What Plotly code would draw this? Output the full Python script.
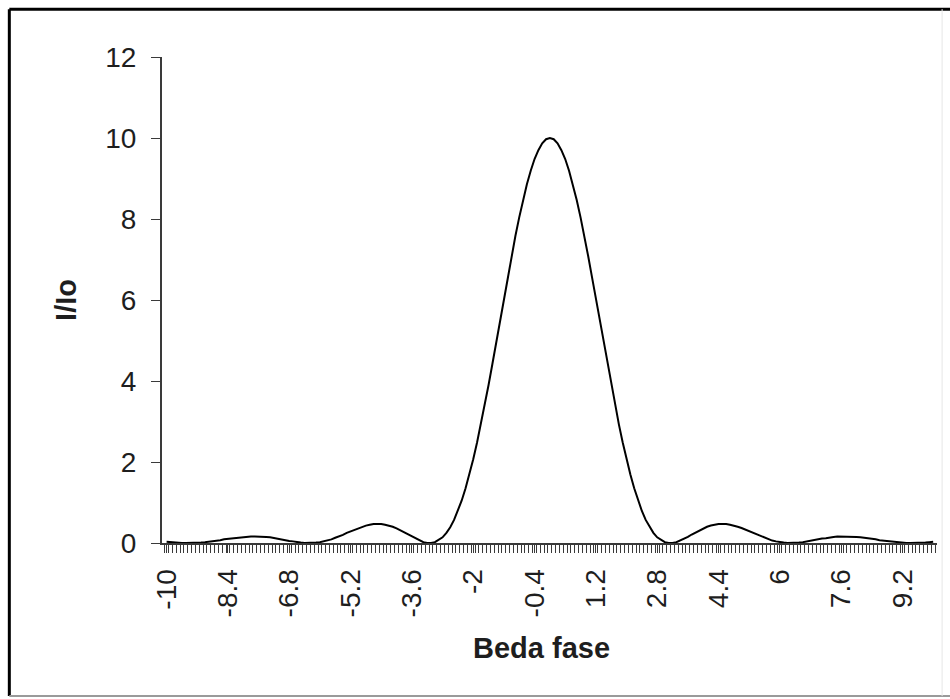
import plotly.graph_objects as go

# Category axis: phase difference from -10 to 10 in steps of 0.1
beda_fase = [round(-10 + 0.1 * i, 1) for i in range(201)]

# I/Io (left to right, -10 ... 10)
intensitas = [
    0.03, 0.02, 0.01, 0.01, 0.00, 0.00, 0.00, 0.00, 0.01, 0.01,
    0.02, 0.03, 0.04, 0.06, 0.07, 0.09, 0.10, 0.12, 0.13, 0.14,
    0.15, 0.16, 0.16, 0.16, 0.16, 0.16, 0.15, 0.14, 0.12, 0.11,
    0.09, 0.07, 0.05, 0.04, 0.02, 0.01, 0.00, 0.00, 0.00, 0.01,
    0.02, 0.04, 0.06, 0.09, 0.13, 0.16, 0.20, 0.25, 0.29, 0.33,
    0.37, 0.40, 0.43, 0.45, 0.47, 0.47, 0.47, 0.45, 0.43, 0.40,
    0.36, 0.31, 0.26, 0.21, 0.15, 0.10, 0.06, 0.02, 0.00, 0.00,
    0.02, 0.07, 0.14, 0.25, 0.39, 0.57, 0.79, 1.05, 1.35, 1.69,
    2.07, 2.48, 2.93, 3.40, 3.90, 4.42, 4.95, 5.49, 6.03, 6.56,
    7.08, 7.58, 8.04, 8.47, 8.86, 9.19, 9.48, 9.70, 9.87, 9.97,
    10.00,
    9.97, 9.87, 9.70, 9.48, 9.19, 8.86, 8.47, 8.04, 7.58, 7.08,
    6.56, 6.03, 5.49, 4.95, 4.42, 3.90, 3.40, 2.93, 2.48, 2.07,
    1.69, 1.35, 1.05, 0.79, 0.57, 0.39, 0.25, 0.14, 0.07, 0.02,
    0.00, 0.00, 0.02, 0.06, 0.10, 0.15, 0.21, 0.26, 0.31, 0.36,
    0.40, 0.43, 0.45, 0.47, 0.47, 0.47, 0.45, 0.43, 0.40, 0.37,
    0.33, 0.29, 0.25, 0.20, 0.16, 0.13, 0.09, 0.06, 0.04, 0.02,
    0.01, 0.00, 0.00, 0.00, 0.01, 0.02, 0.04, 0.05, 0.07, 0.09,
    0.11, 0.12, 0.14, 0.15, 0.16, 0.16, 0.16, 0.16, 0.16, 0.15,
    0.14, 0.13, 0.12, 0.10, 0.09, 0.07, 0.06, 0.04, 0.03, 0.02,
    0.01, 0.01, 0.00, 0.00, 0.00, 0.00, 0.01, 0.01, 0.02, 0.03,
]

x_tick_labels = ["-10", "-8.4", "-6.8", "-5.2", "-3.6", "-2", "-0.4",
                 "1.2", "2.8", "4.4", "6", "7.6", "9.2"]
y_tick_labels = ["0", "2", "4", "6", "8", "10", "12"]

FONT = "Liberation Sans, Arial, sans-serif"
AXIS_COLOR = "#3a3a3a"
TEXT_COLOR = "#1e1e1e"

fig = go.Figure()
fig.add_trace(go.Scatter(
    x=beda_fase, y=intensitas, mode="lines",
    line=dict(color="black", width=2),
    hoverinfo="x+y", showlegend=False,
))

fig.update_layout(
    width=950, height=699,
    margin=dict(l=162, r=13, t=57, b=156),
    paper_bgcolor="white", plot_bgcolor="white",
    font=dict(family=FONT, size=28, color=TEXT_COLOR),
    xaxis=dict(
        range=[-10.12, 10.1],
        tickmode="array",
        tickvals=[float(t) for t in x_tick_labels],
        ticktext=x_tick_labels,
        tickangle=-90,
        ticks="outside", ticklen=8, tickwidth=1, tickcolor=AXIS_COLOR,
        minor=dict(ticks="outside", ticklen=8, tickwidth=1,
                   tickcolor=AXIS_COLOR, tick0=-10.05, dtick=0.1),
        ticklabelstandoff=5,
        showline=True, linecolor=AXIS_COLOR, linewidth=2,
        showgrid=False, zeroline=False,
        tickfont=dict(size=28, family=FONT, color=TEXT_COLOR),
    ),
    yaxis=dict(
        range=[0, 12],
        tickmode="array",
        tickvals=[float(t) for t in y_tick_labels],
        ticktext=y_tick_labels,
        ticks="outside", ticklen=9, tickwidth=1, tickcolor=AXIS_COLOR,
        ticklabelstandoff=9,
        showline=True, linecolor=AXIS_COLOR, linewidth=2,
        showgrid=False, zeroline=False,
        tickfont=dict(size=28, family=FONT, color=TEXT_COLOR),
    ),
    annotations=[
        dict(text="<b>I/Io</b>", xref="paper", yref="paper",
             x=-0.124, y=0.5, textangle=-90, showarrow=False,
             font=dict(size=29, family=FONT, color=TEXT_COLOR),
             xanchor="center", yanchor="middle"),
        dict(text="<b>Beda fase</b>", xref="paper", yref="paper",
             x=0.49, y=-0.216, showarrow=False,
             font=dict(size=29, family=FONT, color=TEXT_COLOR),
             xanchor="center", yanchor="middle"),
    ],
    shapes=[
        dict(type="line", xref="paper", yref="paper",
             x0=-0.197, x1=1.02, y0=1.0985, y1=1.0985,
             line=dict(color="black", width=3)),
        dict(type="line", xref="paper", yref="paper",
             x0=-0.197, x1=-0.197, y0=1.0985, y1=-0.315,
             line=dict(color="black", width=3)),
        dict(type="line", xref="paper", yref="paper",
             x0=-0.197, x1=1.02, y0=-0.315, y1=-0.315,
             line=dict(color="#9a9a9a", width=2)),
        dict(type="line", xref="paper", yref="paper",
             x0=1.0066, x1=1.0066, y0=1.0985, y1=-0.315,
             line=dict(color="#e6e6e6", width=1)),
    ],
)

fig.write_html(
    "out.html",
    config={"displayModeBar": False},
    post_script="document.body.style.margin='0';document.body.style.overflow='hidden';",
)
